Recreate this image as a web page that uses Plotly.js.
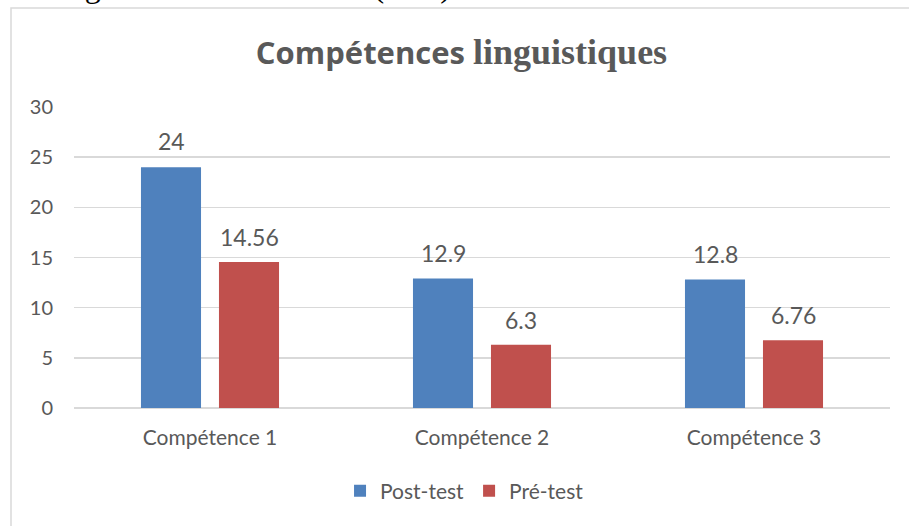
<!DOCTYPE html>
<html><head><meta charset="utf-8">
<script src="https://cdn.plot.ly/plotly-3.0.1.min.js"></script>
<style>html,body{margin:0;padding:0;background:#fff;}#chart{width:909px;height:526px;}</style>
</head><body><div id="chart"></div>
<script>
const categories = ["Compétence 1", "Compétence 2", "Compétence 3"];
const postTest = [24, 12.9, 12.8];
const preTest = [14.56, 6.3, 6.76];
const seriesNames = ["Post-test", "Pré-test"];
const yTicks = [0, 5, 10, 15, 20, 25, 30];

const gray = "#595959";
const font = "Lato, 'Open Sans', sans-serif";

const traces = [
  {type: "bar", name: seriesNames[0], x: categories, y: postTest, marker: {color: "#4F81BD"}, hoverinfo: "x+y"},
  {type: "bar", name: seriesNames[1], x: categories, y: preTest, marker: {color: "#C0504D"}, hoverinfo: "x+y"}
];

const annotations = [];
categories.forEach((c, i) => {
  annotations.push({x: c, y: postTest[i], xref: "x", yref: "y", text: String(postTest[i]), showarrow: false,
    xshift: -39, yshift: 26, yanchor: "middle", font: {family: font, size: 23, color: gray}});
  annotations.push({x: c, y: preTest[i], xref: "x", yref: "y", text: String(preTest[i]), showarrow: false,
    xshift: 39, yshift: 25, yanchor: "middle", font: {family: font, size: 23, color: gray}});
});
annotations.push({x: 0, xref: "paper", xanchor: "left", xshift: -74, y: 1, yref: "paper", yanchor: "bottom", yshift: 101,
  text: "sont significatives au niveau (0.01)", showarrow: false,
  font: {family: "'Liberation Serif', 'Times New Roman', serif", size: 32, color: "#000"}});

const layout = {
  width: 909, height: 526,
  margin: {l: 74, r: 19, t: 107, b: 118},
  paper_bgcolor: "#fff", plot_bgcolor: "#fff",
  title: {text: "<b>Compétences</b> <b><span style=\"font-family:'Liberation Serif', serif;font-size:36px\">linguistiques</span></b>",
    x: 461.5 / 909, xref: "container", xanchor: "center", y: 526 - 53, yref: "container", yanchor: "middle",
    font: {family: "'Open Sans', sans-serif", size: 31, color: gray}},
  barmode: "group", bargap: 0.4265, bargroupgap: 0.23,
  xaxis: {type: "category", showgrid: false, showline: false, zeroline: false, ticks: "",
    ticklabelstandoff: 15, tickfont: {family: font, size: 21, color: gray}},
  yaxis: {range: [0, 30], tickvals: yTicks, showgrid: true, gridcolor: "#d9d9d9", gridwidth: 1.5,
    zeroline: true, zerolinecolor: "#d9d9d9", zerolinewidth: 2, showline: false, ticks: "",
    ticklabelstandoff: 20, tickfont: {family: font, size: 20, color: gray}},
  showlegend: true,
  legend: {orientation: "h", x: 0.4786, xanchor: "center", y: -0.276, yanchor: "middle",
    font: {family: font, size: 21, color: gray}, itemwidth: 30, traceorder: "normal"},
  annotations: annotations,
  shapes: [{type: "rect", xref: "paper", yref: "paper", x0: (11 - 74) / 816, x1: 1.2, y0: -0.6, y1: 1 + (107 - 8) / 301,
    line: {color: "#d9d9d9", width: 1.5}, fillcolor: "rgba(0,0,0,0)", layer: "below"}]
};

Plotly.newPlot("chart", traces, layout, {displayModeBar: false, staticPlot: true});
</script></body></html>
